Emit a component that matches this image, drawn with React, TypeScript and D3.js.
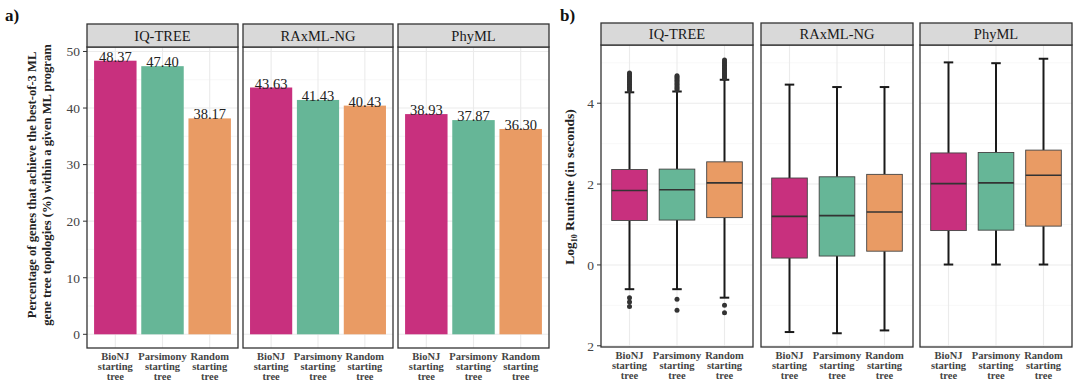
import * as d3 from 'd3';

const programs = ['IQ-TREE', 'RAxML-NG', 'PhyML'];
const startTrees = ['BioNJ', 'Parsimony', 'Random'];
const colors = ['#C8307E', '#66B697', '#E99B64'];

// panel a: % of genes reaching best-of-3 ML topology
const pctIQTree = [48.37, 47.4, 38.17];
const pctRaxml = [43.63, 41.43, 40.43];
const pctPhyml = [38.93, 37.87, 36.3];
const pctTicks = [0, 10, 20, 30, 40, 50];

// panel b: log10 runtime box stats [lo, q1, median, q3, hi]
const rtIQTree = [
  [-0.6, 1.1, 1.84, 2.36, 4.27],
  [-0.6, 1.11, 1.86, 2.37, 4.29],
  [-0.81, 1.17, 2.03, 2.55, 4.58],
];
const rtRaxml = [
  [-1.66, 0.17, 1.2, 2.15, 4.46],
  [-1.69, 0.22, 1.22, 2.18, 4.4],
  [-1.62, 0.34, 1.31, 2.24, 4.4],
];
const rtPhyml = [
  [0.01, 0.85, 2.01, 2.77, 5.01],
  [0.01, 0.86, 2.03, 2.78, 4.99],
  [0.01, 0.96, 2.22, 2.84, 5.1],
];
const outIQTree = [
  [-0.81, -0.92, -1.03, 4.31, 4.35, 4.39, 4.43, 4.47, 4.51, 4.55, 4.59, 4.63, 4.67, 4.71, 4.75],
  [-0.85, -1.12, 4.33, 4.37, 4.41, 4.45, 4.49, 4.53, 4.57, 4.61, 4.65, 4.68],
  [-1.0, -1.18, 4.62, 4.66, 4.7, 4.74, 4.78, 4.82, 4.86, 4.9, 4.94, 4.98, 5.02, 5.07],
];
const rtTicks = [-2, 0, 2, 4];
const rtTickLabels = ['2', '0', '2', '4'];

const pctData = [pctIQTree, pctRaxml, pctPhyml];
const rtData = [rtIQTree, rtRaxml, rtPhyml];
const outData = [outIQTree, [[], [], []], [[], [], []]];

const serif = 'Liberation Serif, Times New Roman, serif';
const border = '#333333';
const gridMajor = '#ebebeb';
const gridMinor = '#f4f4f4';

const XLabel = ({ x, y, name }: { x: number; y: number; name: string }) => (
  <g fontFamily={serif} fontWeight="bold" fontSize={10.5} fill="#444" textAnchor="middle">
    <text x={x} y={y}>{name}</text>
    <text x={x} y={y + 9.8}>starting</text>
    <text x={x} y={y + 19.6}>tree</text>
  </g>
);

const Strip = ({ x0, x1, top, bottom, label }: any) => (
  <g>
    <rect x={x0} y={top} width={x1 - x0} height={bottom - top} fill="#d9d9d9" stroke={border} strokeWidth={1.3} />
    <text x={(x0 + x1) / 2} y={(top + bottom) / 2 + 5} textAnchor="middle" fontFamily={serif} fontSize={14.5} fill="#1a1a1a">
      {label}
    </text>
  </g>
);

export default function App() {
  const width = 1080;
  const height = 387;

  // ---- panel a ----
  const aPanels = [
    [87, 238],
    [243, 393],
    [398, 549],
  ];
  const aTop = 47;
  const aStripTop = 24;
  const aBottom = 348;
  const yA = d3.scaleLinear([-2.42, 50.79], [aBottom, aTop]);
  const minorA = d3.range(5, 50, 10);

  // ---- panel b ----
  const bPanels = [
    [601, 753],
    [761, 913],
    [920, 1072],
  ];
  const bTop = 45;
  const bStripTop = 23;
  const bBottom = 347;
  const yB = d3.scaleLinear([-2.03, 5.44], [bBottom, bTop]);
  const minorB = [-1, 1, 3, 5];

  return (
    <svg width={width} height={height} style={{ position: 'absolute', left: 0, top: 0, background: '#fff' }}>
      <text x={5} y={21} fontFamily={serif} fontWeight="bold" fontSize={17} fill="#111">a)</text>
      <text x={560} y={21} fontFamily={serif} fontWeight="bold" fontSize={17} fill="#111">b)</text>

      {/* y axis title a */}
      <g transform={`translate(36,185) rotate(-90)`} fontFamily={serif} fontWeight="bold" fontSize={12.6} fill="#222" textAnchor="middle">
        <text x={0} y={0}>Percentage of genes that achieve the best-of-3 ML</text>
        <text x={0} y={14.5}>gene tree topologies (%) within a given ML program</text>
      </g>

      {/* y axis a */}
      {pctTicks.map((t) => (
        <g key={t}>
          <line x1={83} x2={87} y1={yA(t)} y2={yA(t)} stroke={border} />
          <text x={80} y={yA(t) + 4.8} textAnchor="end" fontFamily={serif} fontSize={13.5} fill="#444">{t}</text>
        </g>
      ))}

      {aPanels.map(([x0, x1], p) => {
        const x = d3.scaleBand(startTrees, [x0, x1]).paddingInner(0).paddingOuter(0.1);
        const step = x.step();
        const bw = step * 0.9;
        return (
          <g key={p}>
            {minorA.map((t) => (
              <line key={'m' + t} x1={x0} x2={x1} y1={yA(t)} y2={yA(t)} stroke={gridMinor} strokeWidth={0.7} />
            ))}
            {pctTicks.map((t) => (
              <line key={'g' + t} x1={x0} x2={x1} y1={yA(t)} y2={yA(t)} stroke={gridMajor} strokeWidth={1.1} />
            ))}
            {startTrees.map((c) => {
              const cx = (x(c) as number) + step / 2;
              return <line key={'v' + c} x1={cx} x2={cx} y1={aTop} y2={aBottom} stroke={gridMajor} strokeWidth={1.1} />;
            })}
            {startTrees.map((c, i) => {
              const cx = (x(c) as number) + step / 2;
              const v = pctData[p][i];
              return (
                <g key={c}>
                  <rect x={cx - bw / 2} y={yA(v)} width={bw} height={yA(0) - yA(v)} fill={colors[i]} />
                  <text x={cx} y={yA(v) + 1} textAnchor="middle" fontFamily={serif} fontSize={14.5} fill="#222">
                    {v.toFixed(2)}
                  </text>
                </g>
              );
            })}
            <rect x={x0} y={aTop} width={x1 - x0} height={aBottom - aTop} fill="none" stroke={border} strokeWidth={1.3} />
            <Strip x0={x0} x1={x1} top={aStripTop} bottom={aTop} label={programs[p]} />
            {startTrees.map((c) => {
              const cx = (x(c) as number) + step / 2;
              return <XLabel key={'x' + c} x={cx} y={360} name={c} />;
            })}
          </g>
        );
      })}

      {/* y axis title b */}
      <g transform={`translate(574,187) rotate(-90)`} fontFamily={serif} fontWeight="bold" fontSize={13.5} fill="#222" textAnchor="middle">
        <text x={0} y={0}>
          Log<tspan fontSize={8} dy={3}>10</tspan>
          <tspan dy={-3}> Runtime (in seconds)</tspan>
        </text>
      </g>

      {/* y axis b */}
      {rtTicks.map((t, i) => (
        <g key={t}>
          <line x1={597} x2={601} y1={yB(t)} y2={yB(t)} stroke={border} />
          <text x={594} y={yB(t) + 4.8} textAnchor="end" fontFamily={serif} fontSize={13.5} fill="#444">{rtTickLabels[i]}</text>
        </g>
      ))}

      {bPanels.map(([x0, x1], p) => {
        const x = d3.scaleBand(startTrees, [x0, x1]).paddingInner(0).paddingOuter(0.1);
        const step = x.step();
        const boxW = step * 0.75;
        const capW = step * 0.2;
        return (
          <g key={p}>
            {minorB.map((t) => (
              <line key={'m' + t} x1={x0} x2={x1} y1={yB(t)} y2={yB(t)} stroke={gridMinor} strokeWidth={0.7} />
            ))}
            {rtTicks.map((t) => (
              <line key={'g' + t} x1={x0} x2={x1} y1={yB(t)} y2={yB(t)} stroke={gridMajor} strokeWidth={1.1} />
            ))}
            {startTrees.map((c) => {
              const cx = (x(c) as number) + step / 2;
              return <line key={'v' + c} x1={cx} x2={cx} y1={bTop} y2={bBottom} stroke={gridMajor} strokeWidth={1.1} />;
            })}
            {startTrees.map((c, i) => {
              const cx = (x(c) as number) + step / 2;
              const [lo, q1, med, q3, hi] = rtData[p][i];
              return (
                <g key={c}>
                  <line x1={cx} x2={cx} y1={yB(hi)} y2={yB(q3)} stroke="#1a1a1a" strokeWidth={2} />
                  <line x1={cx} x2={cx} y1={yB(q1)} y2={yB(lo)} stroke="#1a1a1a" strokeWidth={2} />
                  <line x1={cx - capW / 2} x2={cx + capW / 2} y1={yB(hi)} y2={yB(hi)} stroke="#1a1a1a" strokeWidth={2} />
                  <line x1={cx - capW / 2} x2={cx + capW / 2} y1={yB(lo)} y2={yB(lo)} stroke="#1a1a1a" strokeWidth={2} />
                  <rect x={cx - boxW / 2} y={yB(q3)} width={boxW} height={yB(q1) - yB(q3)} fill={colors[i]} stroke="#444" strokeWidth={0.9} />
                  <line x1={cx - boxW / 2} x2={cx + boxW / 2} y1={yB(med)} y2={yB(med)} stroke="#333" strokeWidth={1.6} />
                  {outData[p][i].map((o, k) => (
                    <circle key={k} cx={cx} cy={yB(o)} r={2.5} fill="#333" />
                  ))}
                </g>
              );
            })}
            <rect x={x0} y={bTop} width={x1 - x0} height={bBottom - bTop} fill="none" stroke={border} strokeWidth={1.3} />
            <Strip x0={x0} x1={x1} top={bStripTop} bottom={bTop} label={programs[p]} />
            {startTrees.map((c) => {
              const cx = (x(c) as number) + step / 2;
              return <XLabel key={'x' + c} x={cx} y={359} name={c} />;
            })}
          </g>
        );
      })}
    </svg>
  );
}
